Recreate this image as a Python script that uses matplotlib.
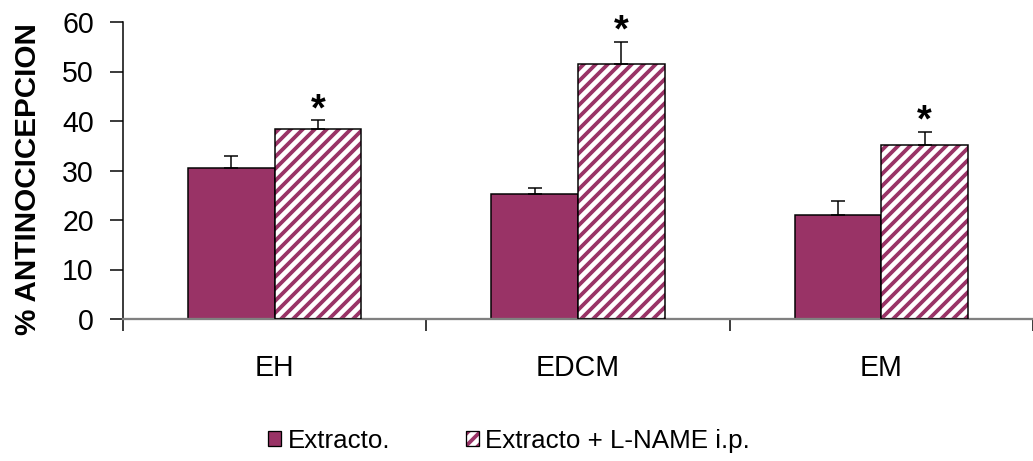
import numpy as np
import matplotlib
matplotlib.use("Agg")
import matplotlib.pyplot as plt
from matplotlib.patches import Patch

# data
categories = ['EH', 'EDCM', 'EM']
extracto = [30.6, 25.2, 21.0]
extracto_err = [2.3, 1.3, 2.8]
lname = [38.3, 51.5, 35.2]
lname_err = [1.9, 4.5, 2.6]
labels = ['Extracto.', 'Extracto + L-NAME i.p.']

DPI = 72  # 1 pt == 1 px
plt.rcParams['font.family'] = ['Liberation Sans', 'DejaVu Sans']
plt.rcParams['hatch.linewidth'] = 3.8

plum = '#993366'

fig = plt.figure(figsize=(1033 / DPI, 461 / DPI), dpi=DPI)
ax = fig.add_axes([123 / 1033, 1 - 319 / 461, 910 / 1033, 297 / 461])

x = np.arange(len(categories)) + 0.5
w = 0.286

# solid bars
ax.bar(x - w / 2, extracto, w, color=plum, edgecolor='black', linewidth=1.5, zorder=2)
# hatched bars (hatch then black outline)
hb = ax.bar(x + w / 2, lname, w, color='white', edgecolor=plum, hatch='//', linewidth=0, zorder=2)
for p in hb:
    p.set_hatch_linewidth(3.8)
ax.bar(x + w / 2, lname, w, fill=False, edgecolor='black', linewidth=1.5, zorder=3)

# upper error bars only
ax.errorbar(x - w / 2, extracto, yerr=[np.zeros(len(x)), extracto_err], fmt='none',
            ecolor='black', elinewidth=1.5, capsize=7, capthick=1.5, zorder=4)
ax.errorbar(x + w / 2, lname, yerr=[np.zeros(len(x)), lname_err], fmt='none',
            ecolor='black', elinewidth=1.5, capsize=7, capthick=1.5, zorder=4)

# significance stars
tops = np.array(lname) + np.array(lname_err)
for xi, t in zip(x + w / 2, tops):
    ax.annotate('*', (xi, t), xytext=(0, 0), textcoords='offset points',
                ha='center', va='baseline', fontsize=38, fontweight='bold')

ax.set_xlim(0, 3)
ax.set_ylim(0, 60)
ax.set_yticks(range(0, 61, 10))
ax.tick_params(axis='y', length=13, width=1.5, pad=16, labelsize=28.5)

ax.set_xticks([0, 1, 2, 3])
ax.set_xticklabels([])
ax.tick_params(axis='x', which='major', length=12, width=1.5)
ax.set_xticks(x, minor=True)
ax.set_xticklabels(categories, minor=True)
ax.tick_params(axis='x', which='minor', length=0, pad=35, labelsize=28.5)

ax.spines[['top', 'right']].set_visible(False)
ax.spines['left'].set_linewidth(1.5)
ax.spines['bottom'].set_color('#808080')
ax.spines['bottom'].set_linewidth(2.3)

fig.text(28 / 1033, 1 - 179 / 461, '% ANTINOCICEPCION', rotation=90,
         ha='center', va='center', fontsize=29.6, fontweight='bold')

h1 = Patch(facecolor=plum, edgecolor='black', linewidth=1.3)
h2 = (Patch(facecolor='white', edgecolor=plum, hatch='//', linewidth=0),
      Patch(fill=False, edgecolor='black', linewidth=1.3))
fig.legend([h1, h2], labels, loc='center', bbox_to_anchor=(509 / 1033, 1 - 441 / 461),
           ncol=2, frameon=False, fontsize=26, handlelength=0.5, handleheight=0.5,
           handletextpad=0.25, columnspacing=2.9)

fig.savefig('out.png', dpi=DPI)
